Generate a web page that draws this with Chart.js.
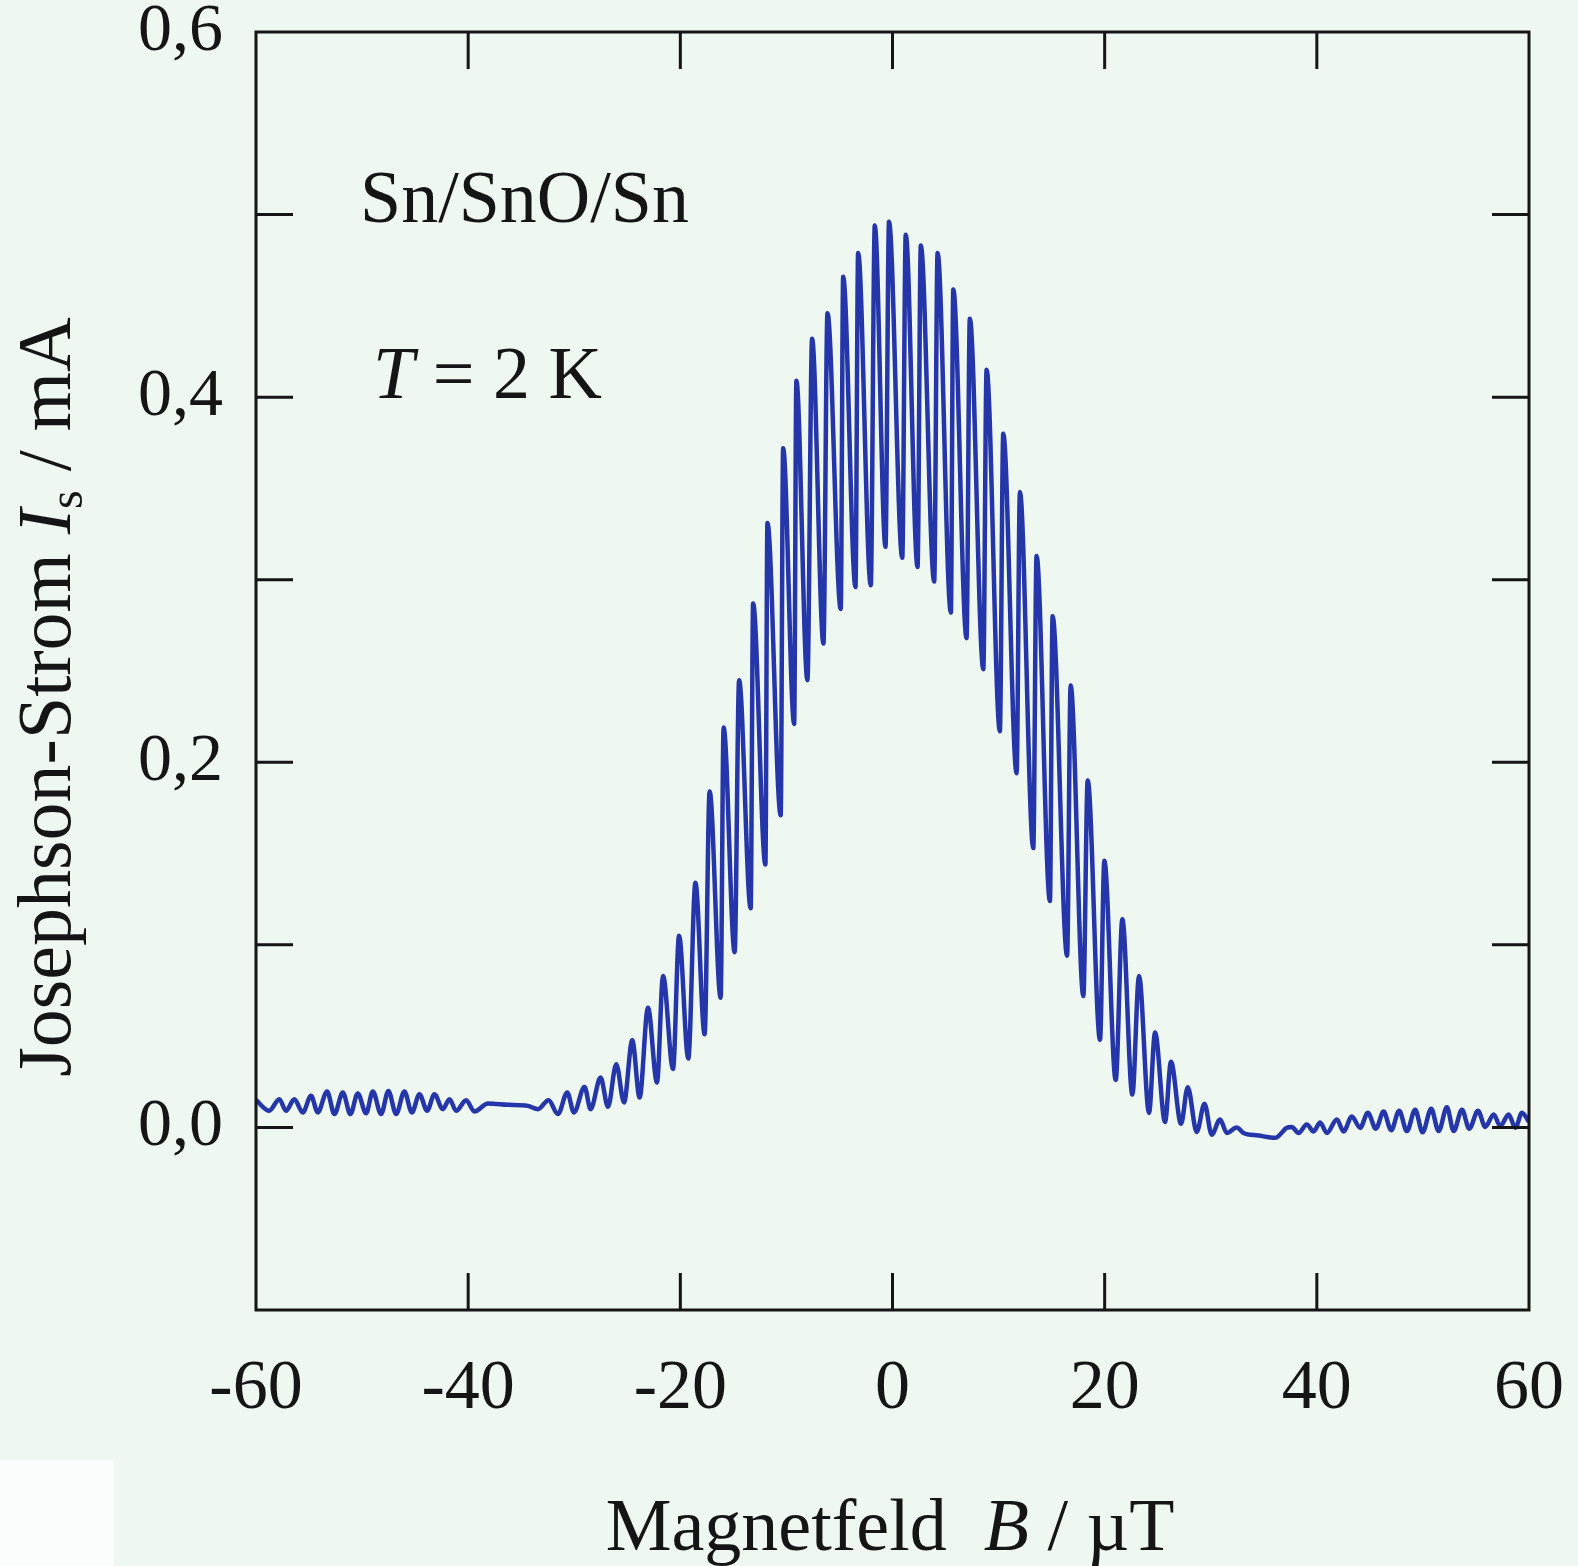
<!DOCTYPE html>
<html>
<head>
<meta charset="utf-8">
<title>Josephson-Strom – Sn/SnO/Sn</title>
<script src="https://cdn.jsdelivr.net/npm/chart.js@4.4.1/dist/chart.umd.min.js"></script>
<style>
  html, body { margin:0; padding:0; background:#eff7f1; }
  #wrap { position:relative; width:1578px; height:1566px; }
  #patch { position:absolute; left:0; top:1460px; width:114px; height:106px; background:#fbfdfc; }
  canvas { position:absolute; left:0; top:0; }
</style>
</head>
<body>
<div id="wrap">
  <div id="patch"></div>
  <canvas id="chart" width="1578" height="1566"></canvas>
</div>
<script>
// Magnetfeld B / µT
const fieldB = [
  -60.00, -58.75, -57.80, -57.17, -56.39, -55.59, -54.81, -54.18, -53.30, -52.61,
  -51.82, -51.10, -50.41, -49.62, -48.99, -48.21, -47.52, -46.79, -46.01, -45.31,
  -44.59, -43.87, -43.18, -42.39, -41.76, -41.13, -40.19, -39.41, -38.14, -36.25,
  -34.37, -33.42, -32.42, -31.54, -30.66, -30.03, -29.03, -28.46, -27.52, -26.82,
  -26.04, -25.31, -24.53, -23.84, -23.05, -22.20, -21.63, -20.69, -20.12, -19.25,
  -18.58, -17.71, -17.24, -16.20, -15.92, -14.88, -14.46, -13.37, -13.14, -11.98,
  -11.79, -10.54, -10.31,  -9.27,  -9.06,  -8.02,  -7.58,  -6.51,  -6.13,  -4.88,
   -4.65,  -3.49,  -3.24,  -2.05,  -1.67,  -0.66,  -0.33,   0.92,   1.25,   2.36,
    2.67,   3.93,   4.25,   5.50,   5.73,   6.98,   7.29,   8.56,   8.87,  10.12,
   10.44,  11.70,  12.01,  13.27,  13.58,  14.84,  15.09,  16.46,  16.79,  17.99,
   18.40,  19.56,  19.97,  21.04,  21.67,  22.61,  23.24,  24.18,  24.75,  25.69,
   26.25,  27.20,  27.83,  28.68,  29.41,  30.09,  30.88,  31.51,  32.45,  33.08,
   34.50,  36.07,  37.17,  37.64,  38.27,  39.06,  39.69,  40.31,  40.94,  41.89,
   42.52,  43.30,  44.08,  44.81,  45.57,  46.29,  47.01,  47.76,  48.49,  49.27,
   49.97,  50.78,  51.48,  52.26,  52.90,  53.68,  54.37,  55.19,  55.88,  56.67,
   57.29,  58.08,  58.71,  59.34,  60.00
];
// Josephson-Strom Is / mA
const currentIs = [
  0.0150, 0.0091, 0.0155, 0.0091, 0.0155, 0.0082, 0.0173, 0.0082, 0.0197, 0.0073,
  0.0191, 0.0073, 0.0186, 0.0077, 0.0197, 0.0073, 0.0200, 0.0073, 0.0197, 0.0082,
  0.0182, 0.0091, 0.0182, 0.0100, 0.0155, 0.0091, 0.0149, 0.0087, 0.0131, 0.0124,
  0.0118, 0.0100, 0.0149, 0.0073, 0.0191, 0.0082, 0.0222, 0.0100, 0.0273, 0.0113,
  0.0346, 0.0137, 0.0477, 0.0164, 0.0656, 0.0246, 0.0830, 0.0320, 0.1050, 0.0377,
  0.1340, 0.0510, 0.1840, 0.0710, 0.2190, 0.0960, 0.2450, 0.1200, 0.2870, 0.1440,
  0.3310, 0.1710, 0.3720, 0.2210, 0.4090, 0.2450, 0.4320, 0.2650, 0.4460, 0.2840,
  0.4660, 0.2960, 0.4790, 0.2970, 0.4940, 0.3180, 0.4960, 0.3120, 0.4890, 0.3070,
  0.4830, 0.2990, 0.4790, 0.2820, 0.4590, 0.2680, 0.4430, 0.2510, 0.4150, 0.2170,
  0.3800, 0.1940, 0.3480, 0.1530, 0.3130, 0.1240, 0.2800, 0.0940, 0.2420, 0.0720,
  0.1900, 0.0480, 0.1460, 0.0260, 0.1140, 0.0180, 0.0830, 0.0080, 0.0520, 0.0030,
  0.0360, 0.0020, 0.0220, -0.0025, 0.0130, -0.0040, 0.0044, -0.0030, 0.0000, -0.0030,
  -0.0044, -0.0057, -0.0002, 0.0003, -0.0030, 0.0016, -0.0022, 0.0027, -0.0030, 0.0044,
  -0.0022, 0.0060, -0.0002, 0.0080, -0.0007, 0.0087, -0.0015, 0.0091, -0.0020, 0.0097,
  -0.0027, 0.0102, -0.0020, 0.0110, -0.0020, 0.0097, -0.0007, 0.0091, 0.0003, 0.0071,
  0.0007, 0.0071, -0.0002, 0.0080, 0.0030
];

/* ── Achsen ── */
const X_TICKS = [-40, -20, 0, 20, 40];
const Y_TICKS = [0.0, 0.1, 0.2, 0.3, 0.4, 0.5];
const Y_LABELED = [0.0, 0.2, 0.4, 0.6];

/* ── Stil ── */
const INK  = '#151515';
const LINE = '#2436aa';
const SERIF = "'Liberation Serif', 'DejaVu Serif', serif";
const TL = 37;   // Ticklänge (nach innen)

function setFont(ctx, size, italic){
  ctx.font = (italic ? 'italic ' : '') + size + 'px ' + SERIF;
}

// Text aus Teilstücken: [text, size, italic, dy]
function drawRuns(ctx, parts, x, y, align){
  let w = 0;
  parts.forEach(p => { setFont(ctx, p[1], p[2]); w += ctx.measureText(p[0]).width; });
  let cx = align === 'center' ? x - w / 2 : x;
  parts.forEach(p => {
    setFont(ctx, p[1], p[2]);
    ctx.fillText(p[0], cx, y + (p[3] || 0));
    cx += ctx.measureText(p[0]).width;
  });
}

/* ── Rahmen, Ticks, Beschriftung ── */
const framePlugin = {
  id: 'frame',
  afterDraw(chart){
    const { ctx, chartArea: a, scales: { x, y } } = chart;
    ctx.save();
    ctx.strokeStyle = INK;
    ctx.lineWidth = 3;
    ctx.strokeRect(a.left, a.top, a.right - a.left, a.bottom - a.top);

    ctx.beginPath();
    X_TICKS.forEach(v => {
      const px = x.getPixelForValue(v);
      ctx.moveTo(px, a.top);    ctx.lineTo(px, a.top + TL);
      ctx.moveTo(px, a.bottom); ctx.lineTo(px, a.bottom - TL);
    });
    Y_TICKS.forEach(v => {
      const py = y.getPixelForValue(v);
      ctx.moveTo(a.left, py);  ctx.lineTo(a.left + TL, py);
      ctx.moveTo(a.right, py); ctx.lineTo(a.right - TL, py);
    });
    ctx.stroke();

    ctx.fillStyle = INK;
    ctx.textBaseline = 'alphabetic';
    ctx.textAlign = 'left';

    // Probe / Temperatur
    drawRuns(ctx, [['Sn/SnO/Sn', 74, false]], 360, 222, 'left');
    drawRuns(ctx, [['T', 74, true], [' = 2 K', 74, false]], 373, 398, 'left');

    // x-Titel
    drawRuns(ctx, [['Magnetfeld  ', 74, false], ['B', 74, true], [' / µT', 74, false]], 890, 1550, 'center');

    // y-Titel
    ctx.translate(70, 697);
    ctx.rotate(-Math.PI / 2);
    drawRuns(ctx, [['Josephson-Strom ', 76, false], ['I', 76, true], ['s', 48, false, 12], [' / mA', 76, false]], 0, 0, 'center');
    ctx.restore();
  }
};

/* ── Diagramm ── */
new Chart(document.getElementById('chart'), {
  type: 'line',
  data: {
    datasets: [{
      data: fieldB.map((b, i) => ({ x: b, y: currentIs[i] })),
      borderColor: LINE,
      borderWidth: 4.5,
      pointRadius: 0,
      fill: false,
      cubicInterpolationMode: 'monotone'
    }]
  },
  options: {
    responsive: false,
    animation: false,
    events: [],
    layout: { padding: { left: 0, right: 49, top: 32, bottom: 0 } },
    plugins: { legend: { display: false }, tooltip: { enabled: false } },
    scales: {
      x: {
        type: 'linear', min: -60, max: 60,
        grid: { display: false, drawTicks: false },
        border: { display: false },
        ticks: {
          stepSize: 20, padding: 38, color: INK,
          font: { family: SERIF, size: 70 },
          maxRotation: 0,
          callback: v => String(v)
        },
        afterFit(s){ s.height = 256; s.paddingLeft = 0; s.paddingRight = 0; }
      },
      y: {
        type: 'linear', min: -0.1, max: 0.6,
        grid: { display: false, drawTicks: false },
        border: { display: false },
        ticks: {
          stepSize: 0.1, padding: 33, color: INK,
          font: { family: SERIF, size: 68 },
          callback: v => {
            const r = Math.round(v * 10) / 10;
            return Y_LABELED.includes(r) ? r.toFixed(1).replace('.', ',') : '';
          }
        },
        afterFit(s){ s.width = 256; s.paddingTop = 0; s.paddingBottom = 0; }
      }
    }
  },
  plugins: [framePlugin]
});
</script>
</body>
</html>
